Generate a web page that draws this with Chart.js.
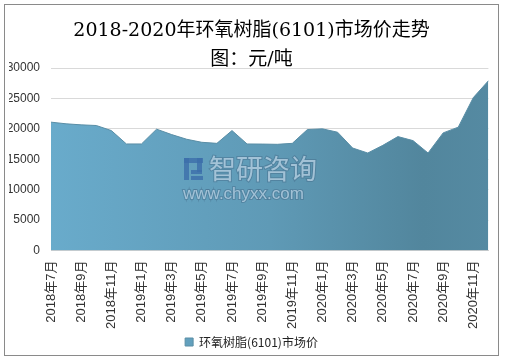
<!DOCTYPE html>
<html>
<head>
<meta charset="utf-8">
<script src="https://cdn.jsdelivr.net/npm/chart.js@4"></script>
<style>
  body { margin: 0; background: #fff; }
  #wrap { width: 506px; height: 362px; }
</style>
</head>
<body>
<div id="wrap"><canvas id="myChart" width="506" height="362"></canvas></div>
<script>
// meses 2018年7月 - 2020年12月
const meses = [];
for (let y = 2018; y <= 2020; y++) {
    for (let m = 1; m <= 12; m++) {
        if (y == 2018 && m < 7) continue;
        meses.push(`${y}年${m}月`);
    }
}

const precio = [21100, 20830, 20660, 20550, 19720, 17520, 17520, 19950, 19060, 18290,
    17790, 17620, 19720, 17520, 17500, 17460, 17620, 19890, 20000, 19450,
    16850, 16030, 17290, 18730, 18070, 16030, 19340, 20280, 25140, 27900];

const ticksY = [0, 5000, 10000, 15000, 20000, 25000, 30000];

const titulo = ['2018-2020年环氧树脂(6101)市场价走势', '图：元/吨'];
const serie = '环氧树脂(6101)市场价';

// borde gris y marca de agua
const extras = {
    id: 'extras',
    afterDatasetsDraw(chart) {
        const ctx = chart.ctx;
        ctx.save();
        ctx.font = '27px "Noto Sans CJK SC"';
        ctx.textBaseline = 'middle';
        ctx.lineWidth = 2;
        ctx.strokeStyle = 'rgba(70,110,140,0.5)';
        ctx.fillStyle = 'rgba(190,215,232,0.75)';
        ctx.strokeText('智研咨询', 209, 169);
        ctx.fillText('智研咨询', 209, 169);
        ctx.font = '17px "Liberation Sans"';
        ctx.strokeText('www.chyxx.com', 183, 194);
        ctx.fillText('www.chyxx.com', 183, 194);
        // logo
        ctx.fillStyle = 'rgba(60,110,170,0.8)';
        ctx.fillRect(184, 158, 19, 5);
        ctx.fillRect(184, 158, 5, 22);
        ctx.fillRect(197, 158, 5, 14);
        ctx.fillRect(191, 170, 11, 4);
        ctx.fillRect(191, 176, 12, 4);
        ctx.restore();
    },
    afterDraw(chart) {
        const ctx = chart.ctx;
        ctx.save();
        ctx.strokeStyle = '#8a8a8a';
        ctx.lineWidth = 1;
        ctx.strokeRect(4.5, 4.5, 494, 351);
        ctx.restore();
    }
};

function degradado(context) {
    const area = context.chart.chartArea;
    if (!area) return '#62a3c2';
    const g = context.chart.ctx.createLinearGradient(area.left, 0, area.right, 0);
    g.addColorStop(0, '#69abcb');
    g.addColorStop(0.5, '#5f9ab6');
    g.addColorStop(0.85, '#52869d');
    g.addColorStop(1, '#558aa2');
    return g;
}

const data = {
    labels: meses,
    datasets: [{
        label: serie,
        data: precio,
        fill: 'origin',
        backgroundColor: degradado,
        borderColor: '#5a8ea6',
        borderWidth: 1,
        pointRadius: 0,
        tension: 0
    }]
};

const config = {
    type: 'line',
    data: data,
    options: {
        responsive: false,
        animation: false,
        layout: { padding: { left: 9, right: 12, top: 6, bottom: 4 } },
        plugins: {
            title: {
                display: true,
                text: titulo,
                color: '#000',
                font: { family: '"DejaVu Serif", "Noto Sans CJK SC"', size: 19, weight: 'normal', lineHeight: 1.5 },
                padding: { top: 11, bottom: -6 }
            },
            legend: {
                position: 'bottom',
                labels: {
                    boxWidth: 8,
                    boxHeight: 8,
                    color: '#222',
                    font: { family: '"Noto Sans CJK SC"', size: 12 },
                    padding: 5
                }
            },
            tooltip: { enabled: false }
        },
        scales: {
            x: {
                grid: { display: false },
                border: { color: '#d0d0d0' },
                ticks: {
                    autoSkip: false,
                    maxRotation: 90,
                    minRotation: 90,
                    padding: 2,
                    color: '#333',
                    font: { family: '"Liberation Sans", "Noto Sans CJK SC"', size: 13 },
                    callback: function (v, i) { return i % 2 == 0 ? meses[i] : ''; }
                }
            },
            y: {
                min: 0,
                max: 30000,
                afterBuildTicks: axis => { axis.ticks = ticksY.map(v => ({ value: v })); },
                afterFit: axis => { axis.width = 42; },
                grid: { color: '#d9d9d9', drawTicks: false },
                border: { display: false },
                ticks: {
                    color: '#333',
                    padding: 11,
                    font: { family: '"Liberation Sans"', size: 12 },
                    callback: v => String(v)
                }
            }
        }
    },
    plugins: [extras]
};

const myChart = new Chart(document.getElementById('myChart'), config);
</script>
</body>
</html>
